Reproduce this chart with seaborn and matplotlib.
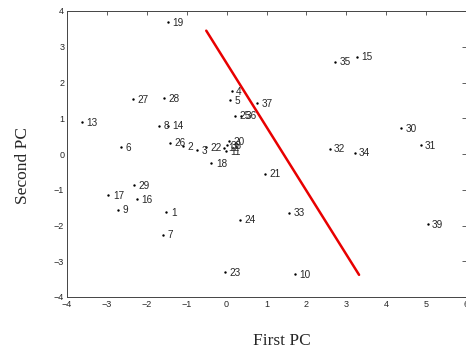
import numpy as np
import pandas as pd
import matplotlib
matplotlib.use("Agg")
import matplotlib.pyplot as plt
import seaborn as sns

# point labels and their scores on the first two principal components
labels = [str(i) for i in range(1, 40)]
pc1 = [-1.51, -1.09, -0.73, 0.13, 0.08, -2.65, -1.59, -1.70, -2.71, 1.71,
       -0.01, -0.07, -3.63, -1.47, 3.27, -2.25, -2.96, -0.38, -1.47, 0.06,
       0.95, -0.51, -0.03, 0.34, 0.22, -1.41, -2.34, -1.58, -2.31, 4.38,
       4.86, 2.58, 1.56, 3.21, 2.71, 0.36, 0.76, 0.00, 5.04]
pc2 = [-1.63, 0.22, 0.10, 1.76, 1.51, 0.19, -2.26, 0.79, -1.56, -3.37,
       0.08, 0.18, 0.90, 0.79, 2.72, -1.26, -1.15, -0.26, 3.69, 0.36,
       -0.55, 0.20, -3.31, -1.84, 1.07, 0.32, 1.53, 1.57, -0.88, 0.72,
       0.25, 0.15, -1.64, 0.04, 2.58, 1.07, 1.43, 0.25, -1.96]

# separating line end points
line_x = [-0.51, 3.32]
line_y = [3.45, -3.38]

xticks = [-4, -3, -2, -1, 0, 1, 2, 3, 4, 5, 6]
yticks = [-4, -3, -2, -1, 0, 1, 2, 3, 4]

sns.set_style("white")
plt.rcParams["font.family"] = ["Liberation Sans", "DejaVu Sans"]
plt.rcParams["xtick.direction"] = "in"
plt.rcParams["ytick.direction"] = "in"

df = pd.DataFrame({"pc1": pc1, "pc2": pc2, "label": labels})

fig = plt.figure(figsize=(4.66, 3.54), dpi=100)
ax = fig.add_axes([67 / 466, 1 - 297 / 354, 399 / 466, 286 / 354])

sns.scatterplot(data=df, x="pc1", y="pc2", ax=ax, color="black", s=3,
                marker="o", linewidth=0, zorder=3)
sns.lineplot(x=line_x, y=line_y, ax=ax, color="#e80000", linewidth=1.8,
             sort=False, zorder=2)

# annotate each point with its number
for _, row in df.iterrows():
    ax.annotate(row["label"], xy=(row["pc1"], row["pc2"]), xytext=(3.2, -0.5),
                textcoords="offset points", fontsize=7.2, va="center", ha="left")

ax.set_xlim(-4, 6)
ax.set_ylim(-4, 4)
ax.set_xticks(xticks)
ax.set_yticks(yticks)
ax.set_xticklabels([str(t).replace("-", "\u2212") for t in xticks])
ax.set_yticklabels([str(t).replace("-", "\u2212") for t in yticks])
ax.tick_params(axis="both", labelsize=6.5, length=3, width=0.6, color="#444444",
               top=True, right=True, pad=2)
for s in ax.spines.values():
    s.set_linewidth(0.7)
    s.set_color("#444444")

ax.set_xlabel("First PC", fontsize=12.5, family=["Liberation Serif", "DejaVu Serif"])
ax.set_ylabel("Second PC", fontsize=12.5, family=["Liberation Serif", "DejaVu Serif"])
ax.xaxis.set_label_coords(0.539, -0.125)
ax.yaxis.set_label_coords(-0.09, 0.46)

plt.savefig("out.png", dpi=100)
